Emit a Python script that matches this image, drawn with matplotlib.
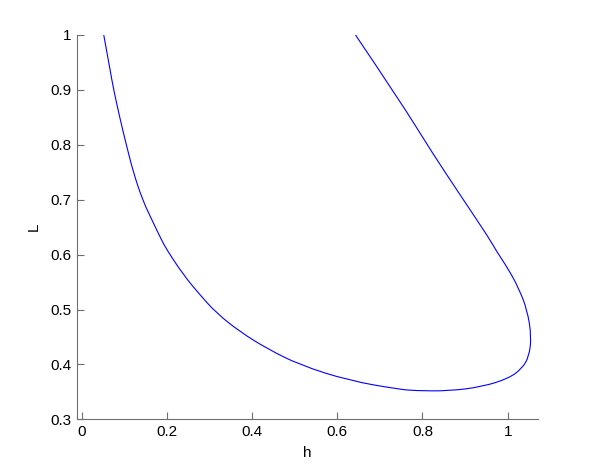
import matplotlib
matplotlib.use("Agg")
import numpy as np
from matplotlib import pyplot as plt
from matplotlib.path import Path
from matplotlib.patches import PathPatch
from matplotlib.ticker import FuncFormatter

# curve, traced from the top-left end round to the top-right end
h = [0.0515, 0.0594, 0.0671, 0.0749, 0.089, 0.1046, 0.1217, 0.1427, 0.1647, 0.1872,
     0.1998, 0.2387, 0.2777, 0.3168, 0.3713, 0.4338, 0.5117, 0.6287, 0.7457, 0.7848,
     0.8629, 0.9406, 1.003, 1.034, 1.050, 1.056, 1.046, 1.026, 1.003, 0.972,
     0.958, 0.896, 0.8236, 0.746, 0.6427]
L = [1.0, 0.9667, 0.9332, 0.8998, 0.85, 0.7996, 0.7481, 0.6995, 0.6630, 0.6266,
     0.6085, 0.5630, 0.5264, 0.4931, 0.4596, 0.4293, 0.3990, 0.3703, 0.3546, 0.3521,
     0.3516, 0.3594, 0.3747, 0.3929, 0.4140, 0.4505, 0.4991, 0.5386, 0.5719, 0.6084,
     0.628, 0.7, 0.7845, 0.8815, 1.0]

x_ticks = [0, 0.2, 0.4, 0.6, 0.8, 1]
y_ticks = [0.3, 0.4, 0.5, 0.6, 0.7, 0.8, 0.9, 1]

plt.rcParams['font.family'] = ['Liberation Sans', 'DejaVu Sans']


def smooth_path(xs, ys):
    # quadratic bezier pieces with the read points as control points
    pts = np.column_stack([xs, ys])
    verts = [pts[0]]
    codes = [Path.MOVETO]
    for i in range(1, len(pts) - 1):
        mid = (pts[i] + pts[i + 1]) / 2 if i < len(pts) - 2 else pts[i + 1]
        verts += [pts[i], mid]
        codes += [Path.CURVE3, Path.CURVE3]
    return Path(verts, codes)


fig = plt.figure(figsize=(5.94, 4.72), dpi=100)
ax = fig.add_axes([0.13, 0.1116, 0.775, 0.8143])
ax.add_patch(PathPatch(smooth_path(h, L), facecolor='none', edgecolor='#0000ff', linewidth=0.8))

ax.set_xlim(-0.0108, 1.0703)
ax.set_ylim(0.3, 1.0)
ax.set_xticks(x_ticks)
ax.set_yticks(y_ticks)
fmt = FuncFormatter(lambda v, pos: '%g' % v)
ax.xaxis.set_major_formatter(fmt)
ax.yaxis.set_major_formatter(fmt)

gray = '#6e6e6e'
for side in ['top', 'right']:
    ax.spines[side].set_visible(False)
for side in ['left', 'bottom']:
    ax.spines[side].set_color(gray)
    ax.spines[side].set_linewidth(0.8)
ax.tick_params(direction='in', length=5, width=0.8, color=gray,
               labelsize=11, labelcolor='black', pad=4)

ax.set_xlabel('h', fontsize=11, labelpad=5)
ax.set_ylabel('L', fontsize=11, labelpad=7)

fig.savefig('out.png', dpi=100)
